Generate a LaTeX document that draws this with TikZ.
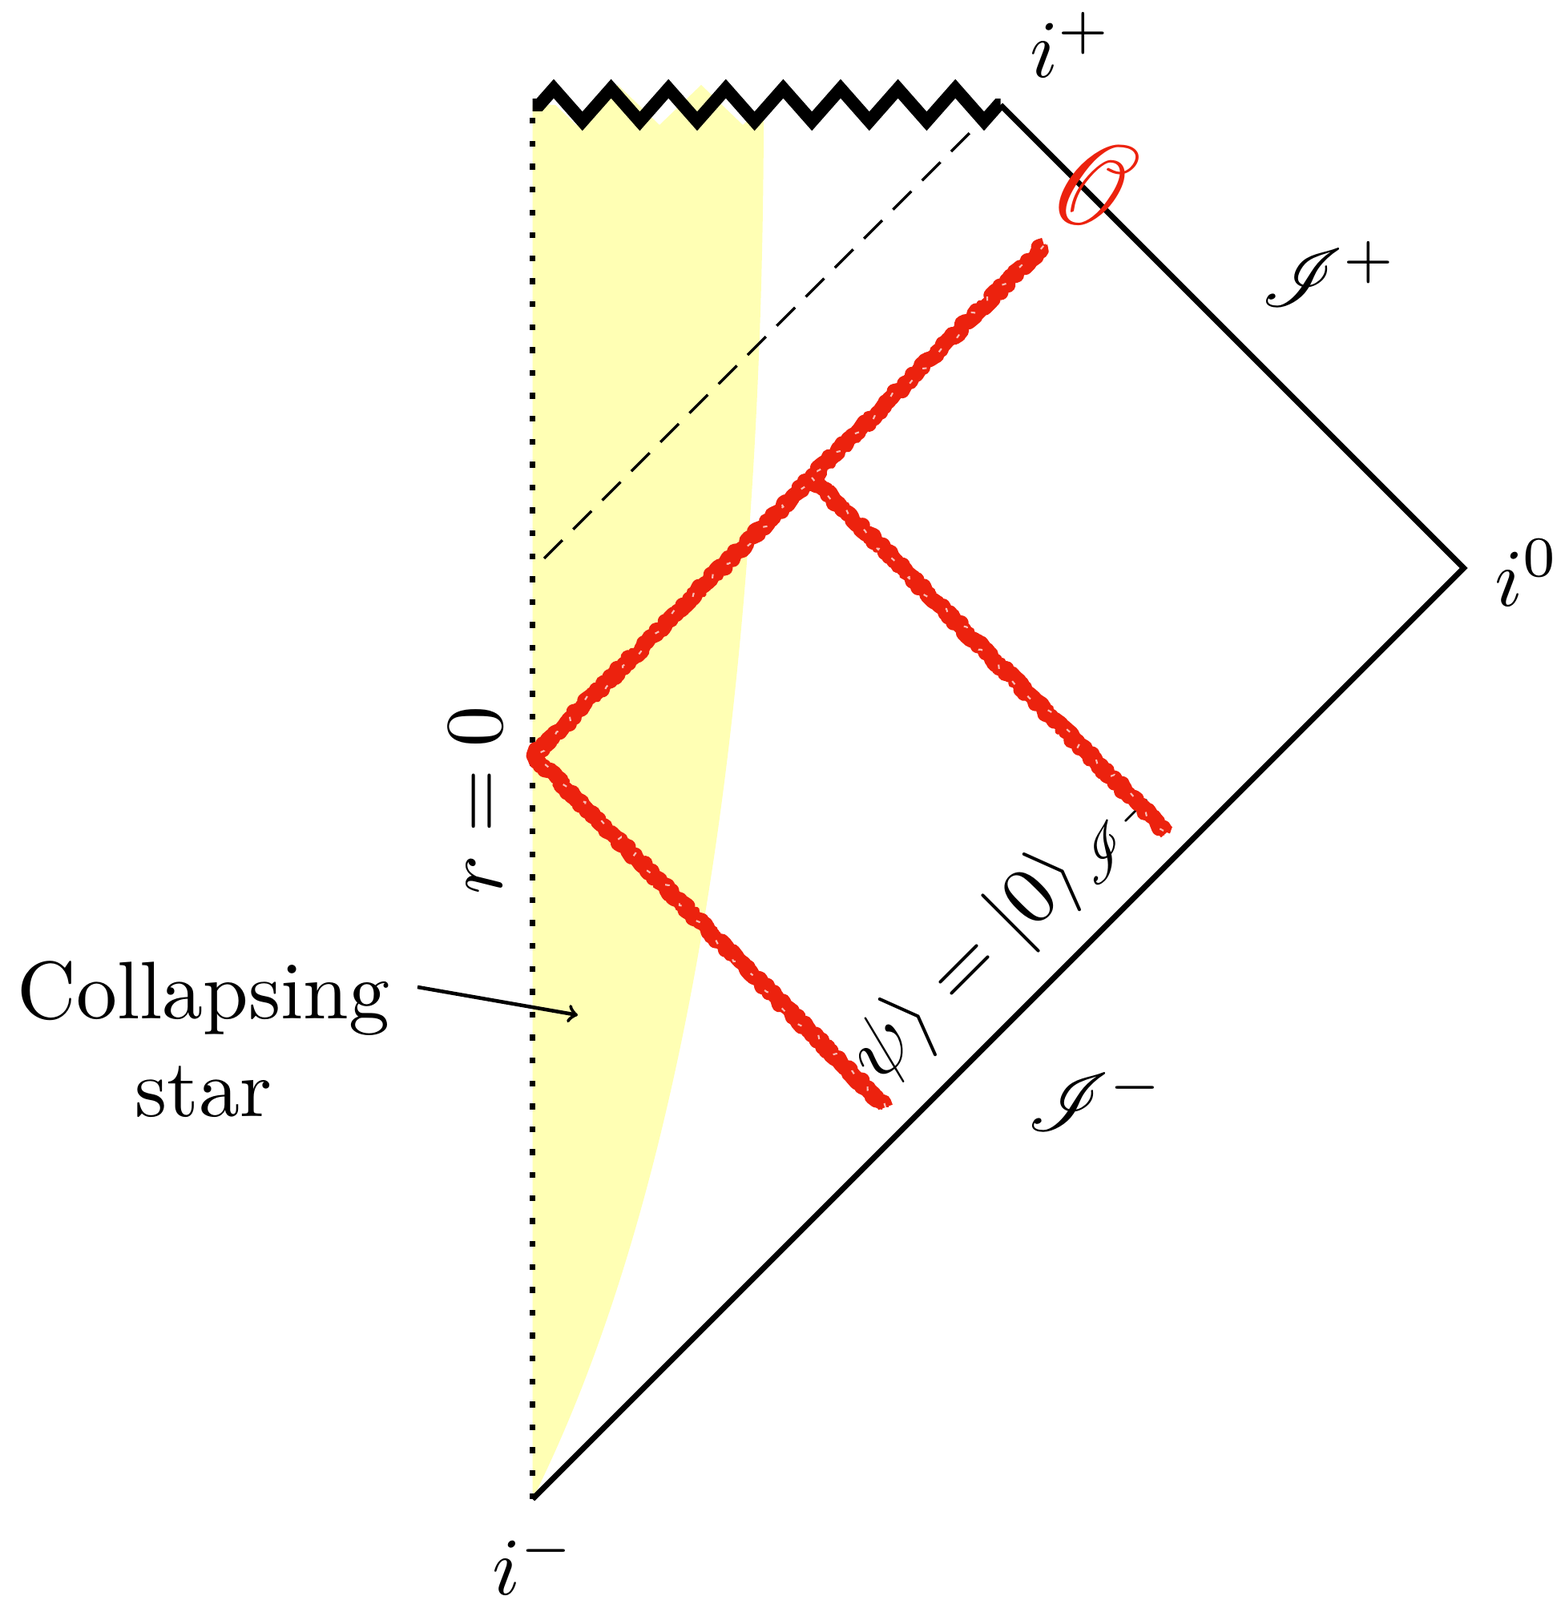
\documentclass[tikz,border=0pt]{standalone}
\usepackage{amsmath,amssymb}
\usepackage{mathrsfs}
\usepackage{tikz}
\usetikzlibrary{decorations.pathmorphing}
\definecolor{Pencil}{RGB}{236,34,14}
\definecolor{StarFill}{RGB}{255,255,180}
\tikzset{
  edge/.style={draw=black, line width=2pt},
  origin/.style={draw=black, line width=2.1pt, dash pattern=on 2.1pt off 6.04pt},
  sing/.style={draw=black, line width=4.5pt, decorate,
    decoration={zigzag, pre length=0.085cm, segment length=0.716cm, amplitude=0.203cm}},
  horizon/.style={draw=black, line width=1pt, dash pattern=on 9.2pt off 5.4pt},
  chalk/.style={draw=Pencil, line width=5.4pt, line join=round, decorate,
    decoration={random steps, segment length=1.1pt, amplitude=1pt}},
  chalkedge/.style={draw=Pencil, line width=2.4pt, line join=round, decorate,
    decoration={random steps, segment length=0.9pt, amplitude=2pt}},
  speck/.style={draw=white, line width=0.6pt, opacity=0.7, dash pattern=on 1.5pt off 9pt,
    decorate, decoration={random steps, segment length=2pt, amplitude=1.6pt}},
  lbl/.style={inner sep=0pt, scale=2.9},
  pointer/.style={->, line width=1.3pt}
}

\begin{document}
\begin{tikzpicture}
  \useasboundingbox (0,0) rectangle (19.48,19.97);

  \coordinate (iminus) at (6.646,1.26);
  \coordinate (izero) at (18.266,12.88);
  \coordinate (iplus) at (12.486,18.66);
  \coordinate (topleft) at (6.646,18.66);
  \coordinate (hbot) at (6.79,13.00);
  \coordinate (htop) at (12.10,18.31);
  \coordinate (vtx) at (6.66,10.54);
  \coordinate (jct) at (10.13,14.01);
  \coordinate (ptop) at (13.03,16.91);
  \coordinate (pend1) at (14.56,9.58);
  \coordinate (pend2) at (11.05,6.15);
  \coordinate (starpt) at (7.21,7.30);

  \fill[StarFill] (iminus) .. controls (8.50,4.97) and (9.53,10.97) .. (9.53,18.66)
    decorate[decoration={zigzag, segment length=1.04cm, amplitude=0.25cm}] {-- (topleft)} -- cycle;

  \draw[origin] (iminus) -- (topleft);
  \draw[edge] (iminus) -- (izero) -- (iplus);
  \draw[sing] (topleft) -- (iplus);
  \draw[horizon] (hbot) -- (htop);

  \node[lbl, anchor=base west] (lip) at (12.83,19.00) {$i^+$};
  \node[lbl, anchor=base west] (lizero) at (18.63,12.40) {$i^0$};
  \node[lbl, anchor=base west] (lim) at (6.12,0.07) {$i^-$};
  \node[lbl, anchor=base west] (lscrip) at (15.72,16.14) {$\mathscr{I}^+$};
  \node[lbl, anchor=base west] (lscrim) at (12.80,5.85) {$\mathscr{I}^-$};
  \node[lbl, anchor=base west, rotate=90] (lr) at (6.26,8.78) {$r=0$};
  \node[lbl, anchor=base west, rotate=45] (lket) at (10.74,6.21) {$|\psi\rangle = |0\rangle_{\mathscr{I}^-}$};
  \node[lbl, align=center] (star) at (2.54,7.00) {Collapsing\\star};
  \node[inner sep=0pt, scale=4.0, text=Pencil] (lobs) at (13.66,17.66) {$\mathscr{O}$};

  \draw[pointer] ([shift={(0.325,0.65)}]star.east) -- (starpt);

  \draw[chalk] (pend2) -- (vtx) -- (ptop);
  \draw[chalk] (jct) -- (pend1);
  \draw[chalkedge] (pend2) -- (vtx) -- (ptop);
  \draw[chalkedge] (jct) -- (pend1);
  \draw[speck] (pend2) -- (vtx) -- (ptop);
  \draw[speck] (jct) -- (pend1);
\end{tikzpicture}
\end{document}
